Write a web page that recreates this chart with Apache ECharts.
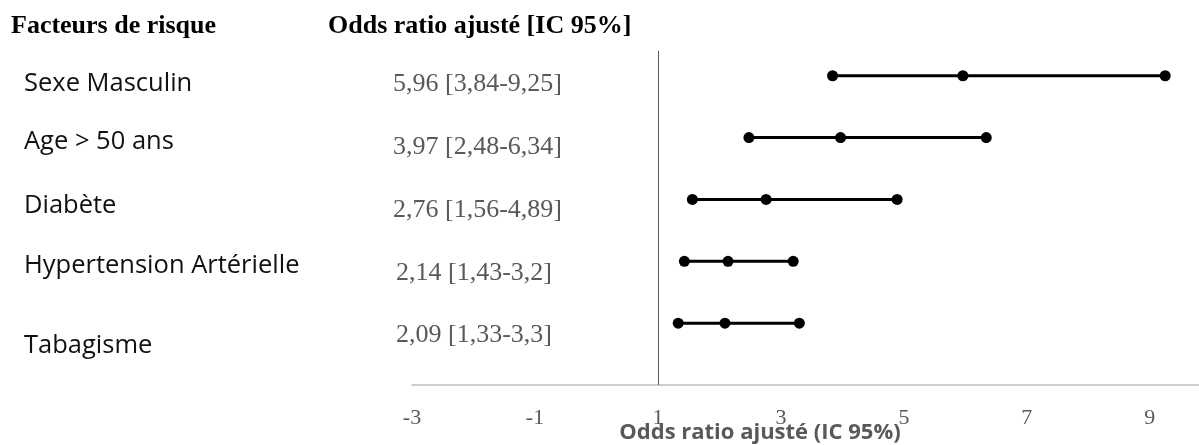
<!DOCTYPE html>
<html>
<head>
<meta charset="utf-8">
<script src="https://cdn.jsdelivr.net/npm/echarts@6/dist/echarts.min.js"></script>
<style>html,body{margin:0;padding:0;background:#fff}#c{width:1199px;height:445px}</style>
</head>
<body>
<div id="c"></div>
<script>
// ---- data ----
const factors = ['Sexe Masculin', 'Age > 50 ans', 'Diabète', 'Hypertension Artérielle', 'Tabagisme'];
const oddsRatio = [5.96, 3.97, 2.76, 2.14, 2.09];
const ciLow = [3.84, 2.48, 1.56, 1.43, 1.33];
const ciHigh = [9.25, 6.34, 4.89, 3.2, 3.3];
const xTicks = [-3, -1, 1, 3, 5, 7, 9];
const headerFactors = 'Facteurs de risque';
const headerOR = 'Odds ratio ajusté [IC 95%]';
const axisTitle = 'Odds ratio ajusté (IC 95%)';

// ---- layout (positions, not data) ----
const factorLabelY = [84, 142, 206, 266, 346];
const orLabelY = [84, 147, 210, 273, 335];
const orLabelX = [393, 393, 393, 396, 396];

const fmt = v => String(v).replace('.', ',');
const orText = oddsRatio.map((v, i) => fmt(v) + ' [' + fmt(ciLow[i]) + '-' + fmt(ciHigh[i]) + ']');
const n = factors.length;

const series = factors.map((name, i) => ({
  type: 'line',
  name: name,
  data: [[ciLow[i], n - i], [oddsRatio[i], n - i], [ciHigh[i], n - i]],
  symbol: 'circle',
  symbolSize: 11,
  lineStyle: { color: '#000', width: 3 },
  itemStyle: { color: '#000' },
  silent: true,
  animation: false
}));
series.push({
  type: 'line', data: [], silent: true, animation: false,
  markLine: {
    symbol: 'none', silent: true, label: { show: false },
    lineStyle: { color: '#5a5a5a', width: 1, type: 'solid' },
    data: [{ xAxis: 1 }]
  }
});

const graphics = [];
graphics.push({ type: 'text', x: 11, y: 26, style: { text: headerFactors, font: 'bold 26px "Liberation Serif", "Times New Roman", serif', fill: '#000', verticalAlign: 'middle' } });
graphics.push({ type: 'text', x: 328, y: 26, style: { text: headerOR, font: 'bold 26px "Liberation Serif", "Times New Roman", serif', fill: '#000', verticalAlign: 'middle' } });
factors.forEach((f, i) => {
  graphics.push({ type: 'text', x: 24, y: factorLabelY[i], style: { text: f, font: '25.5px "Open Sans", sans-serif', fill: '#111', verticalAlign: 'middle' } });
  graphics.push({ type: 'text', x: orLabelX[i], y: orLabelY[i], style: { text: orText[i], font: '26px "Liberation Serif", "Times New Roman", serif', fill: '#595959', verticalAlign: 'middle' } });
});
graphics.push({ type: 'text', x: 760, y: 433, style: { text: axisTitle, font: 'bold 22px "Open Sans", sans-serif', fill: '#595959', align: 'center', verticalAlign: 'middle' } });

const chart = echarts.init(document.getElementById('c'), null, { renderer: 'canvas' });
chart.setOption({
  animation: false,
  backgroundColor: '#fff',
  grid: { left: 412, right: 0, top: 51, bottom: 60 },
  xAxis: {
    type: 'value', min: xTicks[0], max: 9.8, interval: 2,
    axisLine: { show: true, lineStyle: { color: '#bfbfbf', width: 1.5 } },
    axisTick: { show: false },
    splitLine: { show: false },
    axisLabel: {
      showMaxLabel: false,
      margin: 22,
      color: '#595959',
      fontFamily: '"Liberation Serif", "Times New Roman", serif',
      fontSize: 22,
      formatter: v => xTicks.indexOf(v) >= 0 ? String(v) : ''
    }
  },
  yAxis: {
    type: 'value', min: 0, max: 5.4, show: false,
    splitLine: { show: false }
  },
  series: series,
  graphic: graphics
});
</script>
</body>
</html>
